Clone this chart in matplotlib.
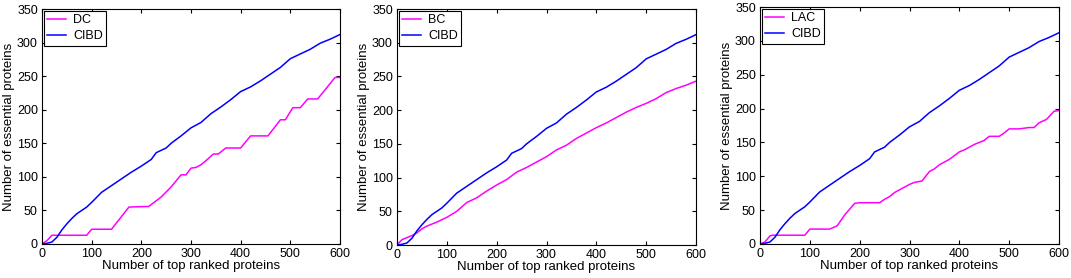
import matplotlib
matplotlib.use("Agg")
import matplotlib.pyplot as plt

plt.rcParams['font.family'] = ['Liberation Sans', 'DejaVu Sans']

# shared CIBD curve
cibd_x = [0, 10, 20, 30, 40, 50, 60, 70, 80, 90, 100, 120, 140, 160, 180, 200, 220, 230, 250, 260,
          280, 300, 320, 340, 360, 380, 400, 420, 440, 460, 480, 500, 520, 540, 560, 580, 600]
cibd_y = [0, 1, 3, 10, 21, 30, 38, 45, 50, 55, 62, 77, 87, 97, 107, 116, 126, 136, 143, 150,
          161, 173, 181, 194, 204, 215, 227, 234, 243, 253, 263, 276, 283, 290, 299, 305, 312]

dc_x = [0, 10, 20, 90, 100, 140, 175, 215, 240, 260, 280, 290, 300, 310, 320, 330, 345, 355,
        370, 400, 420, 455, 480, 490, 505, 520, 535, 555, 590, 600]
dc_y = [0, 5, 13, 13, 22, 22, 55, 56, 70, 85, 103, 103, 113, 114, 118, 124, 134, 134,
        143, 143, 161, 161, 185, 185, 203, 203, 216, 216, 248, 248]

bc_x = [0, 10, 20, 30, 40, 50, 60, 80, 100, 120, 140, 160, 180, 200, 220, 240, 260, 280, 300,
        320, 340, 360, 380, 400, 420, 440, 460, 480, 500, 520, 540, 560, 580, 600]
bc_y = [0, 8, 11, 14, 18, 24, 28, 34, 41, 50, 63, 70, 80, 89, 97, 108, 115, 123, 131,
        141, 148, 158, 166, 174, 181, 189, 197, 204, 210, 217, 226, 232, 237, 243]

lac_x = [0, 10, 20, 25, 90, 100, 140, 155, 170, 190, 200, 240, 250, 260, 270, 280, 300, 310, 325,
         340, 350, 360, 380, 400, 410, 430, 450, 460, 480, 490, 500, 520, 540, 550, 560, 575, 590, 600]
lac_y = [0, 3, 12, 13, 13, 22, 22, 27, 43, 60, 61, 61, 66, 70, 76, 80, 88, 91, 93,
         107, 111, 117, 125, 136, 139, 147, 153, 159, 159, 164, 170, 170, 172, 172, 179, 184, 196, 197]

panels = [
    ('DC', dc_x, dc_y, [42, 9, 340, 244]),
    ('BC', bc_x, bc_y, [397, 9, 696, 245]),
    ('LAC', lac_x, lac_y, [760, 7, 1059, 244]),
]

W, H = 1071, 278
fig = plt.figure(figsize=(W / 100, H / 100), dpi=100)

for name, xs, ys, (l, t, r, b) in panels:
    ax = fig.add_axes([l / W, (H - b) / H, (r - l) / W, (b - t) / H])
    ax.plot(xs, ys, color='#FF00FF', linewidth=1.1, label=name)
    ax.plot(cibd_x, cibd_y, color='#0000FF', linewidth=1.1, label='CIBD')
    ax.set_xlim(0, 600)
    ax.set_ylim(0, 350)
    ax.set_xticks(range(0, 601, 100))
    ax.set_yticks(range(0, 351, 50))
    ax.tick_params(direction='in', top=True, right=True, labelsize=9, length=3, pad=3)
    ax.set_xlabel('Number of top ranked proteins', fontsize=9.5, labelpad=0)
    ax.set_ylabel('Number of essential proteins', fontsize=9.5, labelpad=1)
    leg = ax.legend(loc='upper left', fontsize=9, fancybox=False, edgecolor='black',
                    borderaxespad=0.15, handlelength=1.5, handletextpad=0.6,
                    borderpad=0.25, labelspacing=0.35, framealpha=1)
    leg.get_frame().set_linewidth(0.8)

fig.savefig('out.png', dpi=100)
